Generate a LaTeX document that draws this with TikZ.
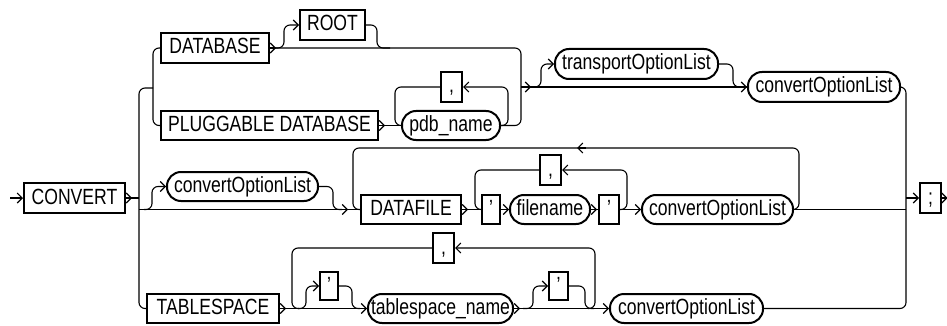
\documentclass[tikz,border=0pt]{standalone}
\usepackage{fontspec}
\setmainfont{Liberation Sans}[FakeStretch=0.8]
\usetikzlibrary{arrows.meta}
\begin{document}
\begin{tikzpicture}[x=1pt,y=-1pt,line width=1.1pt,
  kw/.style={draw,line width=2pt,inner sep=0pt,text height=15.8pt,text depth=3.8pt,
    font=\fontsize{22}{24}\selectfont},
  nt/.style={kw,rounded corners=14pt},
  arr/.style={-{Straight Barb[length=5pt,width=10pt]}},
  rc/.style={rounded corners=6pt}]
\useasboundingbox (0,0) rectangle (947,326);
% nodes
\node[kw,minimum width=101pt,minimum height=30pt] (convert) at (74.5,198) {CONVERT};
\node[kw,minimum width=108pt,minimum height=30pt] (database) at (215,48) {DATABASE};
\node[kw,minimum width=65pt,minimum height=30pt] (root) at (332.5,25) {ROOT};
\node[kw,minimum width=217pt,minimum height=29pt] (pluggable) at (269.5,125.5) {PLUGGABLE DATABASE};
\node[kw,minimum width=21pt,minimum height=30pt] (commaA) at (451.5,87) {,};
\node[nt,minimum width=98pt,minimum height=29pt] (pdb) at (451,125.5) {pdb\_name};
\node[nt,minimum width=163pt,minimum height=30pt] (transport) at (636.5,64) {transportOptionList};
\node[nt,minimum width=152pt,minimum height=30pt] (colT) at (824,87) {convertOptionList};
\node[nt,minimum width=151pt,minimum height=29pt] (colA) at (242.5,186.5) {convertOptionList};
\node[kw,minimum width=100pt,minimum height=29pt] (datafile) at (411,209.5) {DATAFILE};
\node[kw,minimum width=21pt,minimum height=30pt] (commaB) at (550.5,170) {,};
\node[kw,minimum width=18pt,minimum height=29pt] (q1) at (491,209.5) {'};
\node[nt,minimum width=80pt,minimum height=29pt] (filename) at (550,209.5) {filename};
\node[kw,minimum width=20pt,minimum height=29pt] (q2) at (609,209.5) {'};
\node[nt,minimum width=151pt,minimum height=29pt] (colM) at (717.5,209.5) {convertOptionList};
\node[kw,minimum width=21pt,minimum height=30pt] (semi) at (930.5,198) {;};
\node[kw,minimum width=132pt,minimum height=29pt] (tablespace) at (213,308.5) {TABLESPACE};
\node[kw,minimum width=18pt,minimum height=28pt] (q3) at (329,286) {'};
\node[nt,minimum width=145pt,minimum height=29pt] (tsname) at (440.5,308.5) {tablespace\_name};
\node[kw,minimum width=19pt,minimum height=28pt] (q4) at (558.5,286) {'};
\node[kw,minimum width=21pt,minimum height=30pt] (commaC) at (443.5,248) {,};
\node[nt,minimum width=153pt,minimum height=29pt] (colB) at (686.5,308.5) {convertOptionList};
% junction coordinates
\coordinate (start) at (10,198);
\coordinate (jL) at (139,198);
\coordinate (jLtop) at (139,88);
\coordinate (jIn) at (153,88);
\coordinate (jR) at (906,198);
% entry
\draw[arr] (start) -- (convert.west);
\draw (convert.east) -- (jL);
\draw[arr] (convert.east) -- ++(6,0);
% left choice
\draw[rc] (jIn) -- (jLtop) -- (139,308.5) -- (tablespace.west);
\draw[rc] (database.west) -- (153,48) -- (153,125.5) -- (pluggable.west);
\draw (139,209.5) -- (datafile.west);
% database / root
\draw[arr] (database.east) -- ++(6,0);
\draw[rc] (database.east) -- (521,48) -- (521,125.5) -- (pdb.east);
\draw[rc,arr] (274,48) -- (284,48) -- (284,25) -- (root.west);
\draw[rc] (root.east) -- (377,25) -- (377,48) -- (390,48);
% pluggable / pdb loop
\draw[arr] (pluggable.east) -- ++(6,0);
\draw (pluggable.east) -- (pdb.west);
\draw[rc,arr] (pdb.east) -- (508,125.5) -- (508,87) -- (commaA.east);
\draw[rc] (commaA.west) -- (395,87) -- (395,125.5) -- (pdb.west);
% transport / convert top
\draw (521,87) -- (colT.west);
\draw[arr] (524,87) -- (531,87);
\draw[rc,arr] (533,87) -- (541,87) -- (541,64) -- (transport.west);
\draw[rc,arr] (transport.east) -- (733,64) -- (733,87) -- (colT.west);
\draw[rc] (colT.east) -- (906,87) -- (906,308.5) -- (colB.east);
% middle row
\draw[rc,arr] (144,209.5) -- (152,209.5) -- (152,186.5) -- (colA.west);
\draw[rc] (colA.east) -- (333,186.5) -- (333,209.5) -- (342,209.5);
\draw[arr] (340,209.5) -- (348,209.5);
\draw[arr] (datafile.east) -- ++(6,0);
\draw (datafile.east) -- (q1.west);
\draw[arr] (q1.east) -- (filename.west);
\draw (filename.east) -- (q2.west);
\draw[arr] (filename.east) -- ++(6,0);
\draw[arr] (q2.east) -- (colM.west);
\draw[rc,arr] (q2.east) -- (627,209.5) -- (627,170) -- (commaB.east);
\draw[rc] (commaB.west) -- (475,170) -- (475,209.5) -- (q1.west);
\draw[rc] (colM.east) -- (799,209.5) -- (799,148) -- (353,148) -- (353,209.5) -- (datafile.west);
\draw[arr] (586,148) -- (577,148);
\draw (colM.east) -- (906,209.5);
% semicolon
\draw[arr] (jR) -- (semi.west);
\draw[arr] (semi.east) -- ++(5.5,0);
% tablespace row
\draw[arr] (tablespace.east) -- ++(6,0);
\draw[arr] (tablespace.east) -- (tsname.west);
\draw[rc,arr] (298,308.5) -- (306,308.5) -- (306,286) -- (q3.west);
\draw[rc] (q3.east) -- (352,286) -- (352,308.5) -- (360,308.5);
\draw[arr] (tsname.east) -- ++(6,0);
\draw[arr] (tsname.east) -- (colB.west);
\draw[rc,arr] (523,308.5) -- (533,308.5) -- (533,286) -- (q4.west);
\draw[rc] (q4.east) -- (585,286) -- (585,308.5) -- (594,308.5);
\draw[rc,arr] (588,308.5) -- (595,308.5) -- (595,248) -- (commaC.east);
\draw[rc] (commaC.west) -- (292,248) -- (292,308.5) -- (299,308.5);
\end{tikzpicture}
\end{document}
